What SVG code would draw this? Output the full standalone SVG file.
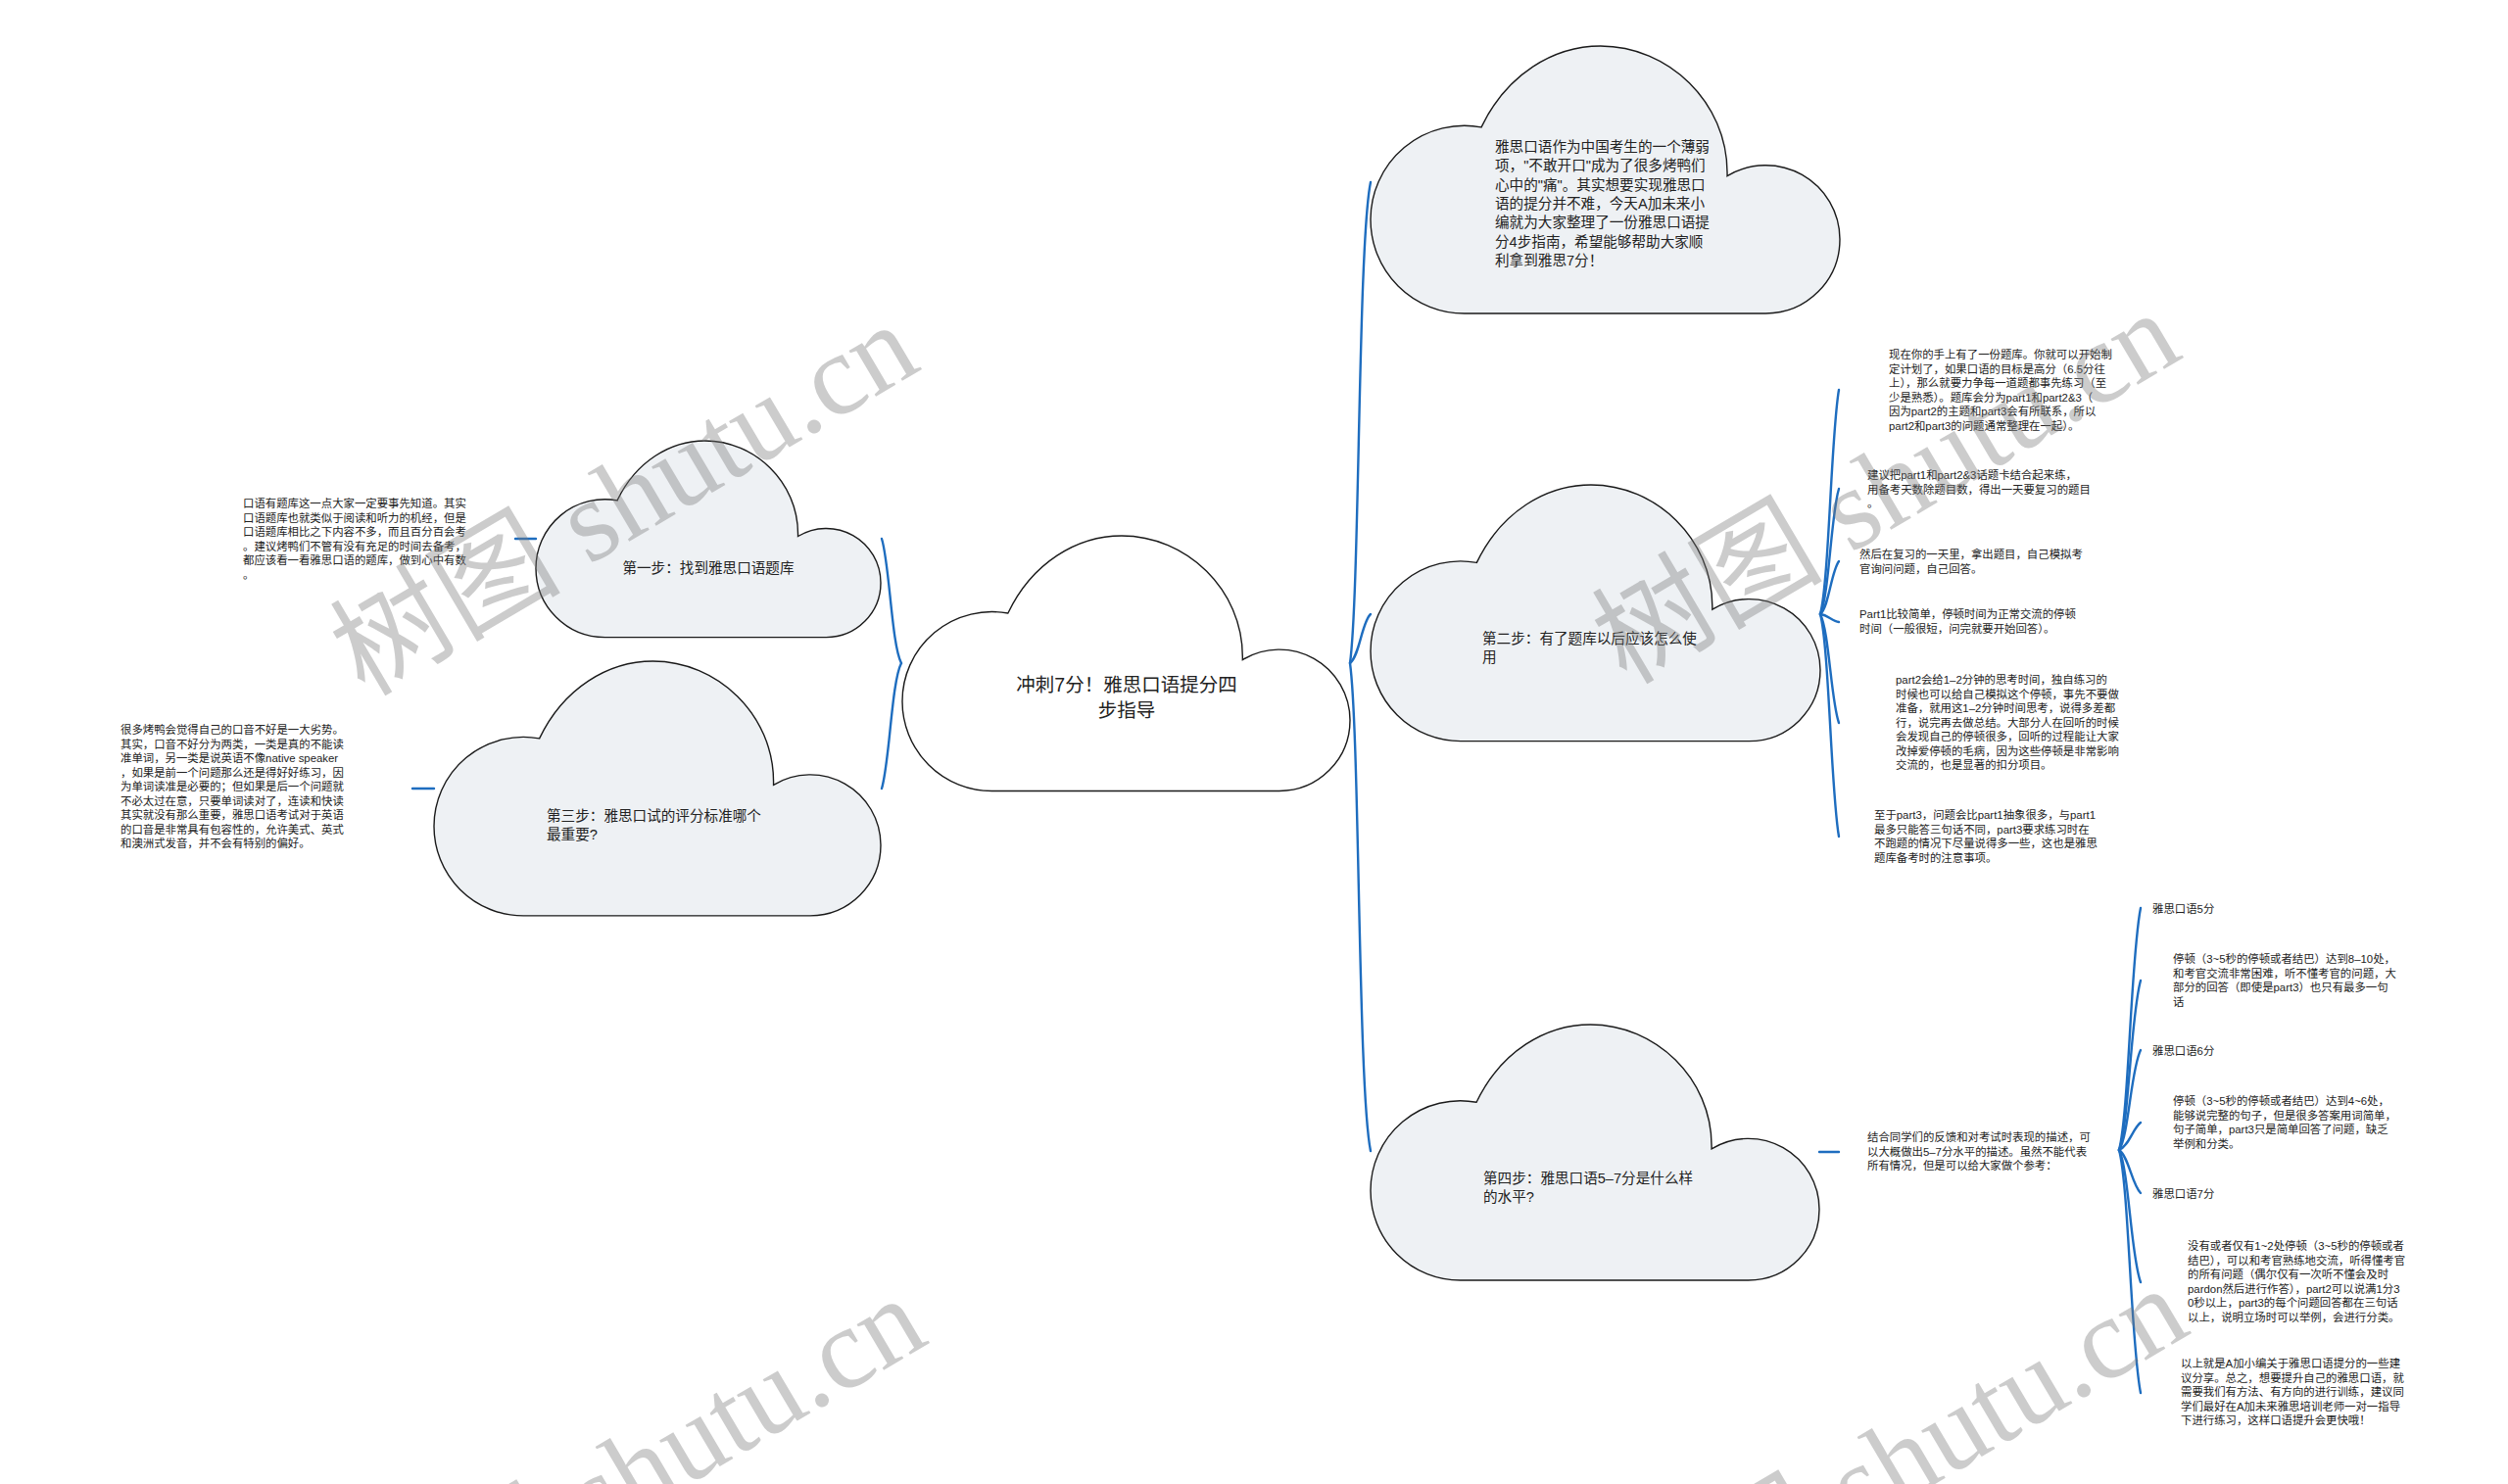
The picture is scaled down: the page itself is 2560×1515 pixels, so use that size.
<svg xmlns="http://www.w3.org/2000/svg" xmlns:xlink="http://www.w3.org/1999/xlink" width="2560" height="1515" viewBox="0 0 2560 1515">
<style>
.cloud{stroke:#1a1a1a;stroke-width:1.4}
.cw{fill:#ffffff}
.cg{fill:#eef1f4}
.conn{fill:none;stroke:#1e6dbf;stroke-width:2.4;stroke-linecap:round}
.t{font-family:"Liberation Sans","Noto Sans CJK SC",sans-serif;fill:#222}
.s{font-size:11.4px}
.m{font-size:14.6px}
.b{font-size:19.5px}
.wm{font-family:"Liberation Serif","Noto Sans CJK SC",serif;font-size:118px;fill:#7a7a7a;opacity:0.38}
</style>
<defs>
<path id="cloud" vector-effect="non-scaling-stroke" d="M200,570 A200,200 0 0 1 0,370 A200,200 0 0 1 236,173 C290,60 390,0 490,0 C635,0 760,120 760,270 L760,277 A158,158 0 0 1 1000,412 A158,158 0 0 1 842,570 Z"/>
</defs>
<rect width="2560" height="1515" fill="#ffffff"/>

<g id="connectors">
<path class="conn" d="M920,677 C910,658 908,575 900,550"/>
<path class="conn" d="M920,677 C910,696 908,779 900,805"/>
<path class="conn" d="M547,550 L526,550"/>
<path class="conn" d="M443,805 L421,805"/>
<path class="conn" d="M1378,677 C1388,603 1386,250 1399,186"/>
<path class="conn" d="M1378,677 C1388,669 1390,635 1399,627"/>
<path class="conn" d="M1378,677 C1388,752 1386,1110 1399,1175"/>
<path class="conn" d="M1858,627 C1867,593 1869,444 1877,398"/>
<path class="conn" d="M1858,627 C1867,608 1869,525 1877,499"/>
<path class="conn" d="M1858,627 C1867,619 1869,584 1877,573"/>
<path class="conn" d="M1858,627 C1866,628 1870,634 1877,635"/>
<path class="conn" d="M1858,627 C1867,644 1869,716 1877,738"/>
<path class="conn" d="M1858,627 C1867,661 1869,809 1877,854"/>
<path class="conn" d="M1857,1176 L1877,1176"/>
<path class="conn" d="M2163,1174 C2173,1137 2175,976 2185,927"/>
<path class="conn" d="M2163,1174 C2173,1148 2175,1036 2185,1001"/>
<path class="conn" d="M2163,1174 C2173,1159 2175,1092 2185,1072"/>
<path class="conn" d="M2163,1174 C2173,1170 2177,1152 2185,1146"/>
<path class="conn" d="M2163,1174 C2173,1181 2176,1209 2185,1218"/>
<path class="conn" d="M2163,1174 C2173,1194 2175,1282 2185,1309"/>
<path class="conn" d="M2163,1174 C2173,1211 2175,1372 2185,1422"/>
</g>

<g id="center">
<use xlink:href="#cloud" href="#cloud" class="cloud cw" transform="translate(921,547) scale(0.457)"/>
<text class="t b" text-anchor="middle" x="1150" y="706">冲刺7分！雅思口语提分四</text>
<text class="t b" text-anchor="middle" x="1150" y="732">步指导</text>
</g>

<g id="intro">
<use xlink:href="#cloud" href="#cloud" class="cloud cg" transform="translate(1399,47) scale(0.479)"/>
<text class="t m" x="1526" y="155">
<tspan x="1526" y="155">雅思口语作为中国考生的一个薄弱</tspan>
<tspan x="1526" y="174.3">项，"不敢开口"成为了很多烤鸭们</tspan>
<tspan x="1526" y="193.6">心中的"痛"。其实想要实现雅思口</tspan>
<tspan x="1526" y="212.9">语的提分并不难，今天A加未来小</tspan>
<tspan x="1526" y="232.2">编就为大家整理了一份雅思口语提</tspan>
<tspan x="1526" y="251.5">分4步指南，希望能够帮助大家顺</tspan>
<tspan x="1526" y="270.8">利拿到雅思7分！</tspan>
</text>
</g>

<g id="step1">
<use xlink:href="#cloud" href="#cloud" class="cloud cg" transform="translate(547,450) scale(0.352)"/>
<text class="t m" text-anchor="middle" x="723" y="585">第一步：找到雅思口语题库</text>
</g>

<g id="step3">
<use xlink:href="#cloud" href="#cloud" class="cloud cg" transform="translate(443,675) scale(0.456)"/>
<text class="t m" x="558" y="838">第三步：雅思口试的评分标准哪个</text>
<text class="t m" x="558" y="857">最重要?</text>
</g>

<g id="step2">
<use xlink:href="#cloud" href="#cloud" class="cloud cg" transform="translate(1399,495) scale(0.459)"/>
<text class="t m" x="1513" y="657">第二步：有了题库以后应该怎么使</text>
<text class="t m" x="1513" y="676">用</text>
</g>

<g id="step4">
<use xlink:href="#cloud" href="#cloud" class="cloud cg" transform="translate(1399,1046) scale(0.458)"/>
<text class="t m" x="1514" y="1208">第四步：雅思口语5–7分是什么样</text>
<text class="t m" x="1514" y="1227">的水平?</text>
</g>

<g id="note-step1">
<text class="t s">
<tspan x="248" y="518">口语有题库这一点大家一定要事先知道。其实</tspan>
<tspan x="248" y="532.5">口语题库也就类似于阅读和听力的机经，但是</tspan>
<tspan x="248" y="547">口语题库相比之下内容不多，而且百分百会考</tspan>
<tspan x="248" y="561.5">。建议烤鸭们不管有没有充足的时间去备考，</tspan>
<tspan x="248" y="576">都应该看一看雅思口语的题库，做到心中有数</tspan>
<tspan x="248" y="590.5">。</tspan>
</text>
</g>

<g id="note-step3">
<text class="t s">
<tspan x="123" y="749">很多烤鸭会觉得自己的口音不好是一大劣势。</tspan>
<tspan x="123" y="763.5">其实，口音不好分为两类，一类是真的不能读</tspan>
<tspan x="123" y="778">准单词，另一类是说英语不像native speaker</tspan>
<tspan x="123" y="792.5">，如果是前一个问题那么还是得好好练习，因</tspan>
<tspan x="123" y="807">为单词读准是必要的；但如果是后一个问题就</tspan>
<tspan x="123" y="821.5">不必太过在意，只要单词读对了，连读和快读</tspan>
<tspan x="123" y="836">其实就没有那么重要，雅思口语考试对于英语</tspan>
<tspan x="123" y="850.5">的口音是非常具有包容性的，允许美式、英式</tspan>
<tspan x="123" y="865">和澳洲式发音，并不会有特别的偏好。</tspan>
</text>
</g>

<g id="note-2a">
<text class="t s">
<tspan x="1928" y="366">现在你的手上有了一份题库。你就可以开始制</tspan>
<tspan x="1928" y="380.5">定计划了，如果口语的目标是高分（6.5分往</tspan>
<tspan x="1928" y="395">上），那么就要力争每一道题都事先练习（至</tspan>
<tspan x="1928" y="409.5">少是熟悉）。题库会分为part1和part2&amp;3（</tspan>
<tspan x="1928" y="424">因为part2的主题和part3会有所联系，所以</tspan>
<tspan x="1928" y="438.5">part2和part3的问题通常整理在一起）。</tspan>
</text>
</g>
<g id="note-2b">
<text class="t s">
<tspan x="1906" y="489">建议把part1和part2&amp;3话题卡结合起来练，</tspan>
<tspan x="1906" y="503.5">用备考天数除题目数，得出一天要复习的题目</tspan>
<tspan x="1906" y="518">。</tspan>
</text>
</g>
<g id="note-2c">
<text class="t s">
<tspan x="1898" y="570">然后在复习的一天里，拿出题目，自己模拟考</tspan>
<tspan x="1898" y="584.5">官询问问题，自己回答。</tspan>
</text>
</g>
<g id="note-2d">
<text class="t s">
<tspan x="1898" y="631">Part1比较简单，停顿时间为正常交流的停顿</tspan>
<tspan x="1898" y="645.5">时间（一般很短，问完就要开始回答）。</tspan>
</text>
</g>
<g id="note-2e">
<text class="t s">
<tspan x="1935" y="698">part2会给1–2分钟的思考时间，独自练习的</tspan>
<tspan x="1935" y="712.5">时候也可以给自己模拟这个停顿，事先不要做</tspan>
<tspan x="1935" y="727">准备，就用这1–2分钟时间思考，说得多差都</tspan>
<tspan x="1935" y="741.5">行，说完再去做总结。大部分人在回听的时候</tspan>
<tspan x="1935" y="756">会发现自己的停顿很多，回听的过程能让大家</tspan>
<tspan x="1935" y="770.5">改掉爱停顿的毛病，因为这些停顿是非常影响</tspan>
<tspan x="1935" y="785">交流的，也是显著的扣分项目。</tspan>
</text>
</g>
<g id="note-2f">
<text class="t s">
<tspan x="1913" y="836">至于part3，问题会比part1抽象很多，与part1</tspan>
<tspan x="1913" y="850.5">最多只能答三句话不同，part3要求练习时在</tspan>
<tspan x="1913" y="865">不跑题的情况下尽量说得多一些，这也是雅思</tspan>
<tspan x="1913" y="879.5">题库备考时的注意事项。</tspan>
</text>
</g>

<g id="note-4">
<text class="t s">
<tspan x="1906" y="1165">结合同学们的反馈和对考试时表现的描述，可</tspan>
<tspan x="1906" y="1179.5">以大概做出5–7分水平的描述。虽然不能代表</tspan>
<tspan x="1906" y="1194">所有情况，但是可以给大家做个参考：</tspan>
</text>
</g>
<g id="band5"><text class="t s" x="2197" y="932">雅思口语5分</text></g>
<g id="band5-desc">
<text class="t s">
<tspan x="2218" y="983">停顿（3~5秒的停顿或者结巴）达到8–10处，</tspan>
<tspan x="2218" y="997.5">和考官交流非常困难，听不懂考官的问题，大</tspan>
<tspan x="2218" y="1012">部分的回答（即使是part3）也只有最多一句</tspan>
<tspan x="2218" y="1026.5">话</tspan>
</text>
</g>
<g id="band6"><text class="t s" x="2197" y="1077">雅思口语6分</text></g>
<g id="band6-desc">
<text class="t s">
<tspan x="2218" y="1128">停顿（3~5秒的停顿或者结巴）达到4~6处，</tspan>
<tspan x="2218" y="1142.5">能够说完整的句子，但是很多答案用词简单，</tspan>
<tspan x="2218" y="1157">句子简单，part3只是简单回答了问题，缺乏</tspan>
<tspan x="2218" y="1171.5">举例和分类。</tspan>
</text>
</g>
<g id="band7"><text class="t s" x="2197" y="1223">雅思口语7分</text></g>
<g id="band7-desc">
<text class="t s">
<tspan x="2233" y="1276">没有或者仅有1~2处停顿（3~5秒的停顿或者</tspan>
<tspan x="2233" y="1290.5">结巴），可以和考官熟练地交流，听得懂考官</tspan>
<tspan x="2233" y="1305">的所有问题（偶尔仅有一次听不懂会及时</tspan>
<tspan x="2233" y="1319.5">pardon然后进行作答），part2可以说满1分3</tspan>
<tspan x="2233" y="1334">0秒以上，part3的每个问题回答都在三句话</tspan>
<tspan x="2233" y="1348.5">以上，说明立场时可以举例，会进行分类。</tspan>
</text>
</g>
<g id="summary">
<text class="t s">
<tspan x="2226" y="1396">以上就是A加小编关于雅思口语提分的一些建</tspan>
<tspan x="2226" y="1410.5">议分享。总之，想要提升自己的雅思口语，就</tspan>
<tspan x="2226" y="1425">需要我们有方法、有方向的进行训练，建议同</tspan>
<tspan x="2226" y="1439.5">学们最好在A加未来雅思培训老师一对一指导</tspan>
<tspan x="2226" y="1454">下进行练习，这样口语提升会更快哦！</tspan>
</text>
</g>

<g id="watermarks">
<text class="wm" transform="translate(372,712) rotate(-30.5)">树图 shutu.cn</text>
<text class="wm" transform="translate(1660,700) rotate(-30.5)">树图 shutu.cn</text>
<text class="wm" transform="translate(380,1706) rotate(-30.5)">树图 shutu.cn</text>
<text class="wm" transform="translate(1668,1696) rotate(-30.5)">树图 shutu.cn</text>
</g>
</svg>
